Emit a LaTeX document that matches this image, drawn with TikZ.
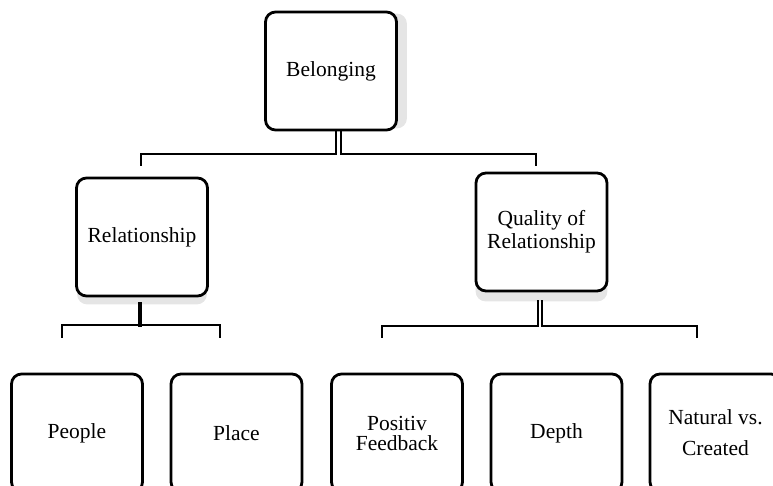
\documentclass[tikz,border=0pt]{standalone}
\usepackage{fontspec}
\setmainfont{Liberation Serif}
\usetikzlibrary{calc,backgrounds}
\begin{document}
\begin{tikzpicture}[x=1pt,y=-1pt,
  box/.style={draw, line width=2.8pt, rounded corners=10pt, fill=white,
    align=center, inner sep=0pt, minimum width=131pt, minimum height=118pt,
    font=\fontsize{21.5}{23}\selectfont},
  boxshade/.style={fill=black!10, draw=none, rounded corners=10pt},
  link/.style={line width=2.1pt, line cap=rect},
  heavylink/.style={line width=3.2pt}]
\useasboundingbox (0,0) rectangle (773,486);
\clip (0,0) rectangle (773,486);

% top level
\node[box] (bel) at (331,71) {Belonging};

% second level
\node[box] (rel)  at (142,237)   {Relationship};
\node[box] (qual) at (541.5,232) {Quality of\\Relationship};

% third level
\node[box] (people) at (77,433)    {People};
\node[box] (place)  at (236.5,433) {Place};
\node[box, font=\fontsize{21.5}{20}\selectfont] (pos) at (397,433) {Positiv\\Feedback};
\node[box] (depth)  at (556.5,433) {Depth};
\node[box, font=\fontsize{21.5}{31}\selectfont] (nat) at (715.5,433) {Natural vs.\\Created};

% soft shadows behind the upper boxes
\begin{scope}[on background layer]
  \fill[boxshade] ($(bel.north west)+(9,3)$) rectangle ($(bel.south east)+(9,-3)$);
  \fill[boxshade] ($(rel.north west)+(2,7)$) rectangle ($(rel.south east)+(-2,7)$);
  \fill[boxshade] ($(qual.north west)+(1,9)$) rectangle ($(qual.south east)+(-1,9)$);
\end{scope}

% free ends of the branch lines
\coordinate (relEnd)  at (141,165);
\coordinate (qualEnd) at (536,165);
\coordinate (peopleEnd) at (62,337);
\coordinate (placeEnd)  at (220,337);
\coordinate (posEnd)    at (382,337);
\coordinate (natEnd)    at (697,337);

% Belonging -> second level (double stem)
\draw[link] ($(bel.south)+(5,0)$) -- ++(0,23) -| (relEnd);
\draw[link] ($(bel.south)+(10,0)$) -- ++(0,23) -| (qualEnd);

% Relationship -> People / Place
\draw[heavylink] ($(rel.south)+(-2,5)$) -- ++(0,25);
\draw[link] (peopleEnd) |- (140,325) -| (placeEnd);

% Quality of Relationship -> Positiv Feedback / Natural vs. Created (double stem)
\draw[link] ($(qual.south)+(-3.5,9)$) -- ++(0,25) -| (posEnd);
\draw[link] ($(qual.south)+(0.5,9)$) -- ++(0,25) -| (natEnd);
\end{tikzpicture}
\end{document}
